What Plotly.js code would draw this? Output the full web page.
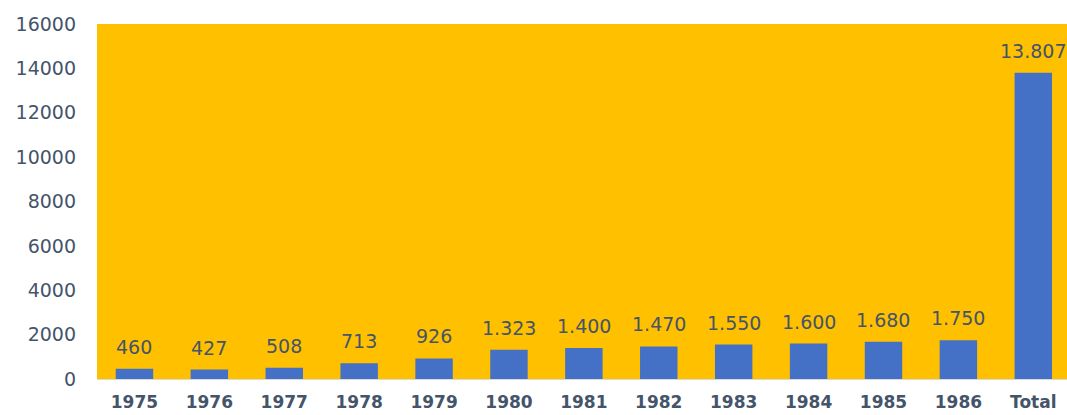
<!DOCTYPE html>
<html><head><meta charset="utf-8">
<script src="https://cdn.plot.ly/plotly-3.0.1.min.js"></script>
<style>html,body{margin:0;padding:0;background:#fff}#chart{width:1067px;height:415px}</style>
</head><body><div id="chart"></div>
<script>
const categories = ['1975','1976','1977','1978','1979','1980','1981','1982','1983','1984','1985','1986','Total'];
const values = [460, 427, 508, 713, 926, 1323, 1400, 1470, 1550, 1600, 1680, 1750, 13807];
const yTicks = [0, 2000, 4000, 6000, 8000, 10000, 12000, 14000, 16000];

function fmt(v){ return String(v).replace(/\B(?=(\d{3})+(?!\d))/g, '.'); }

const textColor = '#44546A';
const fam = 'DejaVu Sans, Verdana, sans-serif';

const trace = {
  type: 'bar', x: categories, y: values,
  marker: {color: '#4471C6', line: {width: 0}},
  hoverinfo: 'skip'
};

const annotations = categories.map((c, i) => ({
  x: i, y: values[i], text: fmt(values[i]), showarrow: false,
  xanchor: 'center', yanchor: 'bottom', yshift: 9,
  font: {family: fam, size: 19, color: textColor}
}));

const layout = {
  width: 1067, height: 415,
  margin: {l: 97, r: 0, t: 24, b: 36},
  paper_bgcolor: '#ffffff', plot_bgcolor: '#FFC000',
  bargap: 0.5, showlegend: false,
  xaxis: {type: 'category', range: [-0.5, 12.45], showgrid: false, zeroline: false,
    showline: true, linecolor: '#D9D9D9', linewidth: 1, ticks: '',
    tickfont: {family: fam, size: 17, color: textColor, weight: 'bold'}, ticklabelstandoff: 8},
  yaxis: {range: [0, 16000], tickvals: yTicks, ticktext: yTicks.map(String), showgrid: false, zeroline: false,
    showline: false, ticks: '', tickfont: {family: fam, size: 19, color: textColor}, ticklabelstandoff: 20},
  annotations: annotations
};

Plotly.newPlot('chart', [trace], layout, {staticPlot: true});
</script></body></html>
